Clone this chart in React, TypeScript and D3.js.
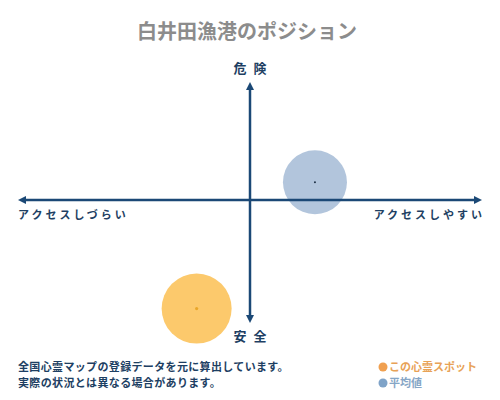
import * as d3 from "d3";

// Position chart: access (x) vs danger (y), both on -1..1
const AXIS_LABELS = { top: "危 険", bottom: "安 全", left: "アクセスしづらい", right: "アクセスしやすい" };
const TITLE = "白井田漁港のポジション";
const NOTES = ["全国心霊マップの登録データを元に算出しています。", "実際の状況とは異なる場合があります。"];

const SERIES_NAMES = ["この心霊スポット", "平均値"];
const SERIES_ACCESS = [-0.23, 0.28];
const SERIES_DANGER = [-0.92, 0.15];
const SERIES_FILL = ["#fcc96c", "#b2c5dc"];
const SERIES_DOT = ["#e9a62a", "#1d2f45"];
const LEGEND_TEXT = ["#e8a257", "#86a6c6"];
const LEGEND_DOT = ["#f0a050", "#7fa3c8"];

const W = 500;
const H = 400;
const NAVY = "#1b4876";
const FONT = "'Noto Sans CJK JP', sans-serif";

export default function App() {
  const x = d3.scaleLinear().domain([-1, 1]).range([18, 482]);
  const y = d3.scaleLinear().domain([-1, 1]).range([318, 82]);
  const cx = x(0);
  const cy = y(0);
  const head = 8;

  const radii = [35, 32];

  return (
    <div style={{ position: "fixed", left: 0, top: 0 }}>
      <svg width={W} height={H} style={{ display: "block", background: "#fff" }}>
        <text x={247} y={39} textAnchor="middle" fontSize={20} fontWeight={700}
          fontFamily={FONT} fill="#8c8c8c">{TITLE}</text>

        {/* Bubbles */}
        {SERIES_NAMES.map((n, i) => (
          <g key={n}>
            <circle cx={x(SERIES_ACCESS[i])} cy={y(SERIES_DANGER[i])} r={radii[i]} fill={SERIES_FILL[i]} />
            <circle cx={x(SERIES_ACCESS[i])} cy={y(SERIES_DANGER[i])} r={i === 0 ? 1.6 : 1} fill={SERIES_DOT[i]} />
          </g>
        ))}

        {/* Axes */}
        <line x1={x(-1) + head - 1} x2={x(1) - head + 1} y1={cy} y2={cy} stroke={NAVY} strokeWidth={2.5} />
        <line x1={cx} x2={cx} y1={82 + head - 1} y2={323 - head + 1} stroke={NAVY} strokeWidth={2.5} />
        <path d={`M${x(-1)},${cy} l${head},-4 l0,8 z`} fill={NAVY} />
        <path d={`M${x(1)},${cy} l-${head},-4 l0,8 z`} fill={NAVY} />
        <path d={`M${cx},82 l-4,${head} l8,0 z`} fill={NAVY} />
        <path d={`M${cx},323 l-4,-${head} l8,0 z`} fill={NAVY} />

        <text x={cx + 1} y={73} textAnchor="middle" fontSize={13} fontWeight={700} letterSpacing={2}
          fontFamily={FONT} fill="#1e3f63">{AXIS_LABELS.top}</text>
        <text x={cx + 1} y={341} textAnchor="middle" fontSize={13} fontWeight={700} letterSpacing={2}
          fontFamily={FONT} fill="#1e3f63">{AXIS_LABELS.bottom}</text>
        <text x={18} y={219} fontSize={11} fontWeight={700} letterSpacing={3}
          fontFamily={FONT} fill="#1e3f63">{AXIS_LABELS.left}</text>
        <text x={485} y={219} textAnchor="end" fontSize={11} fontWeight={700} letterSpacing={3}
          fontFamily={FONT} fill="#1e3f63">{AXIS_LABELS.right}</text>

        {/* Notes */}
        {NOTES.map((t, i) => (
          <text key={t} x={18} y={371 + i * 16} fontSize={11} fontWeight={700} letterSpacing={0.35}
            fontFamily={FONT} fill="#1e3f63">{t}</text>
        ))}

        {/* Legend */}
        {SERIES_NAMES.map((n, i) => (
          <g key={`lg-${n}`}>
            <circle cx={383} cy={367 + i * 16} r={4.5} fill={LEGEND_DOT[i]} />
            <text x={389} y={371 + i * 16} fontSize={11} fontWeight={700}
              fontFamily={FONT} fill={LEGEND_TEXT[i]}>{n}</text>
          </g>
        ))}
      </svg>
    </div>
  );
}
